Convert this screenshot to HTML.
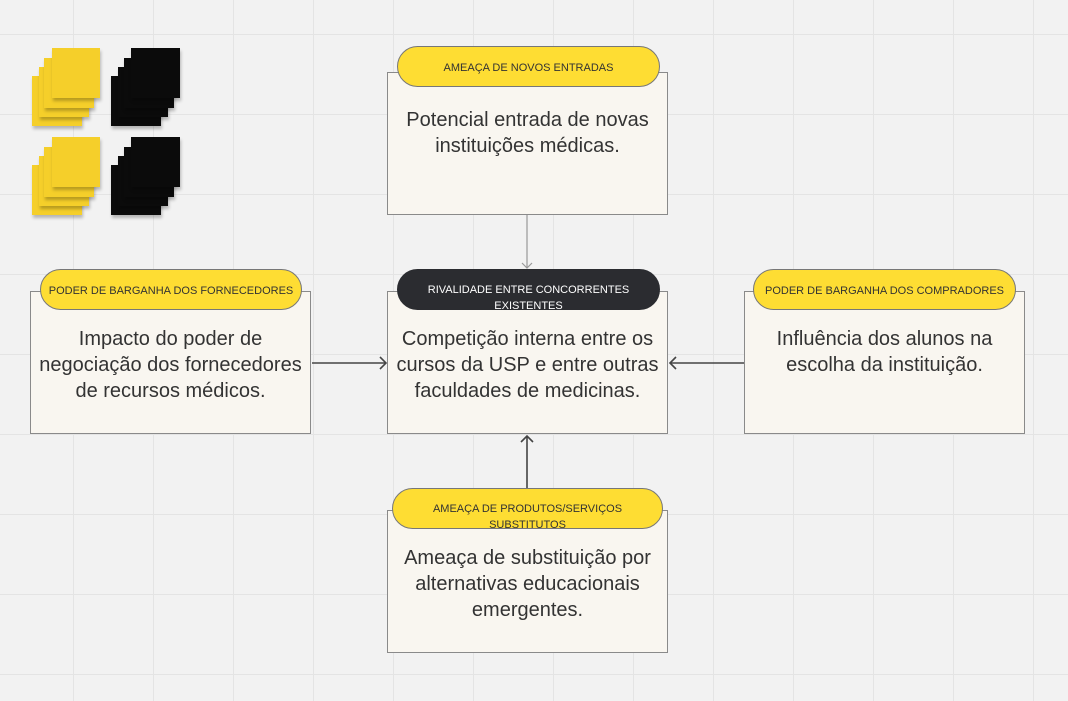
<!DOCTYPE html>
<html><head><meta charset="utf-8"><style>
body{margin:0;width:1068px;height:701px;overflow:hidden;background:#f2f2f2;
background-image:linear-gradient(to right,#e4e4e4 1px,transparent 1px),linear-gradient(to bottom,#e4e4e4 1px,transparent 1px);
background-size:80px 80px;background-position:73px 34px;font-family:"Liberation Sans","DejaVu Sans",sans-serif;position:relative}
.box{position:absolute;width:281px;height:143px;background:#f9f6f0;border:1px solid #8a8a8a;box-sizing:border-box;color:#333;font-size:20px;line-height:26px;text-align:center;padding-top:34px}
.pill{position:absolute;height:41px;border-radius:21px;background:#fedd33;border:1px solid #777;box-sizing:border-box;font-size:11px;color:#333;text-align:center;line-height:16px;display:flex;align-items:center;justify-content:center;padding-top:16px}
.one{padding-top:2px}
.dark{background:#2b2c30;color:#fff;border-color:#2b2c30}
.s{position:absolute;box-shadow:1px 3px 3px rgba(0,0,0,.25)}
.y{background:#f5cf2a}.k{background:#0b0b0b}
svg{position:absolute;left:0;top:0}
</style></head><body>
<div class="s y" style="left:32px;top:76px;width:50px;height:50px"></div>
<div class="s y" style="left:39px;top:67px;width:50px;height:50px"></div>
<div class="s y" style="left:44px;top:58px;width:50px;height:50px"></div>
<div class="s y" style="left:52px;top:48px;width:48px;height:50px"></div>
<div class="s k" style="left:111px;top:76px;width:50px;height:50px"></div>
<div class="s k" style="left:118px;top:67px;width:50px;height:50px"></div>
<div class="s k" style="left:124px;top:58px;width:50px;height:50px"></div>
<div class="s k" style="left:131px;top:48px;width:49px;height:50px"></div>
<div class="s y" style="left:32px;top:165px;width:50px;height:50px"></div>
<div class="s y" style="left:39px;top:156px;width:50px;height:50px"></div>
<div class="s y" style="left:44px;top:147px;width:50px;height:50px"></div>
<div class="s y" style="left:52px;top:137px;width:48px;height:50px"></div>
<div class="s k" style="left:111px;top:165px;width:50px;height:50px"></div>
<div class="s k" style="left:118px;top:156px;width:50px;height:50px"></div>
<div class="s k" style="left:124px;top:147px;width:50px;height:50px"></div>
<div class="s k" style="left:131px;top:137px;width:49px;height:50px"></div>

<svg width="1068" height="701">
<g stroke="#999" fill="none" stroke-width="1.2"><line x1="527" y1="215" x2="527" y2="268"/><polyline points="522,263 527,268 532,263"/></g>
<g stroke="#444" fill="none" stroke-width="1.6">
<line x1="312" y1="363" x2="386" y2="363"/><polyline points="380,357 386,363 380,369"/>
<line x1="744" y1="363" x2="670" y2="363"/><polyline points="676,357 670,363 676,369"/>
<line x1="527" y1="488" x2="527" y2="436"/><polyline points="521,442 527,436 533,442"/>
</g></svg>

<div class="box" style="left:387px;top:72px">Potencial entrada de novas<br>instituições médicas.</div>
<div class="pill one" style="left:397px;top:46px;width:263px">AMEAÇA DE NOVOS ENTRADAS</div>

<div class="box" style="left:30px;top:291px">Impacto do poder de<br>negociação dos fornecedores<br>de recursos médicos.</div>
<div class="pill one" style="left:40px;top:269px;width:262px">PODER DE BARGANHA DOS FORNECEDORES</div>

<div class="box" style="left:387px;top:291px">Competição interna entre os<br>cursos da USP e entre outras<br>faculdades de medicinas.</div>
<div class="pill dark" style="left:397px;top:269px;width:263px">RIVALIDADE ENTRE CONCORRENTES<br>EXISTENTES</div>

<div class="box" style="left:744px;top:291px">Influência dos alunos na<br>escolha da instituição.</div>
<div class="pill one" style="left:753px;top:269px;width:263px">PODER DE BARGANHA DOS COMPRADORES</div>

<div class="box" style="left:387px;top:510px">Ameaça de substituição por<br>alternativas educacionais<br>emergentes.</div>
<div class="pill" style="left:392px;top:488px;width:271px">AMEAÇA DE PRODUTOS/SERVIÇOS<br>SUBSTITUTOS</div>
</body></html>
